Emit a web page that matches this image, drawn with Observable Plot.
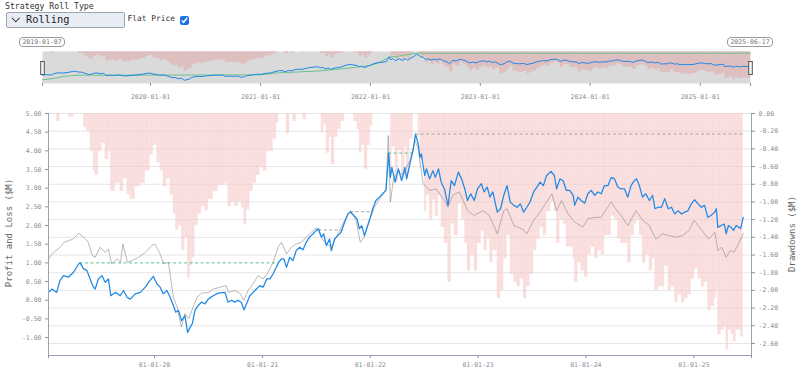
<!DOCTYPE html>
<html><head><meta charset="utf-8">
<script src="https://cdn.jsdelivr.net/npm/d3@7"></script>
<script src="https://cdn.jsdelivr.net/npm/@observablehq/plot@0.6"></script>
<style>
body{margin:0;background:#fff;font-family:"DejaVu Sans Mono",monospace;}
#root{position:relative;width:800px;height:370px;overflow:hidden;}
.abs{position:absolute;}
.datebox{position:absolute;top:37px;width:44px;height:8px;border:1px solid #9a9a9a;border-radius:4px;font-size:6.5px;line-height:8px;text-align:center;color:#777;background:#fff;}
.ytitle{position:absolute;white-space:nowrap;font-size:9px;color:#666;transform:translate(-50%,-50%) rotate(-90deg);}
</style></head><body><div id="root"></div>
<script>
// ---- data ----
const rollTypeLabel = "Rolling";
const bluePnl = [
["2019-01-07",0.21],["2019-01-19",0.30],["2019-02-04",0.21],["2019-02-15",0.53],["2019-02-27",0.66],["2019-03-16",0.62],["2019-04-02",0.75],["2019-04-19",0.97],["2019-04-24",1.00],["2019-05-06",0.84],["2019-05-17",0.80],["2019-05-28",0.57],["2019-06-08",0.35],["2019-06-14",0.30],["2019-06-25",0.57],["2019-07-07",0.66],["2019-07-18",0.48],["2019-07-29",0.57],["2019-08-06",0.12],["2019-08-21",0.21],["2019-09-07",0.12],["2019-09-18",0.26],["2019-09-30",0.08],["2019-10-11",0.03],["2019-10-28",0.17],["2019-11-14",0.21],["2019-12-01",0.35],["2019-12-17",0.53],["2019-12-28",0.64],
["2020-01-09",0.44],["2020-01-20",0.35],["2020-01-31",0.17],["2020-02-12",0.26],["2020-02-23",0.08],["2020-03-05",-0.14],["2020-03-13",-0.32],["2020-03-22",-0.27],["2020-04-02",-0.55],["2020-04-13",-0.41],["2020-04-22",-0.86],["2020-05-01",-0.72],["2020-05-08",-0.63],["2020-05-17",-0.27],["2020-05-28",-0.14],["2020-06-08",-0.05],["2020-06-20",-0.10],["2020-07-01",0.03],["2020-07-18",0.12],["2020-08-04",0.19],["2020-08-27",0.21],["2020-09-06",-0.05],["2020-09-18",0.00],["2020-09-29",-0.05],["2020-10-10",0.00],["2020-10-22",-0.07],["2020-10-30",-0.26],["2020-11-08",-0.09],["2020-11-19",0.12],["2020-11-30",0.21],["2020-12-11",0.30],["2020-12-23",0.39],
["2021-01-03",0.35],["2021-01-15",0.57],["2021-01-26",0.57],["2021-02-06",0.71],["2021-02-17",0.89],["2021-02-25",1.02],["2021-03-06",1.11],["2021-03-14",1.11],["2021-03-23",0.88],["2021-04-03",1.15],["2021-04-14",1.06],["2021-04-25",1.33],["2021-05-07",1.42],["2021-05-18",1.35],["2021-05-29",1.55],["2021-06-09",1.69],["2021-06-21",1.78],["2021-07-02",1.87],["2021-07-10",1.91],["2021-07-19",1.69],["2021-07-27",1.78],["2021-08-05",1.46],["2021-08-16",1.64],["2021-08-22",1.33],["2021-09-02",1.64],["2021-09-13",1.73],["2021-09-24",1.82],["2021-10-06",2.09],["2021-10-17",2.31],["2021-10-26",2.36],["2021-11-06",2.27],["2021-11-17",2.18],["2021-11-25",1.91],["2021-12-03",2.00],["2021-12-12",1.73],["2021-12-23",2.00],
["2022-01-01",2.22],["2022-01-09",2.45],["2022-01-20",2.67],["2022-02-01",2.76],["2022-02-12",2.85],["2022-02-23",2.94],["2022-02-28",3.47],["2022-03-04",3.94],["2022-03-10",3.29],["2022-03-15",3.56],["2022-03-26",3.16],["2022-04-06",3.52],["2022-04-17",3.20],["2022-04-28",3.56],["2022-05-04",3.25],["2022-05-15",3.65],["2022-05-26",4.01],["2022-06-03",4.45],["2022-06-12",4.19],["2022-06-18",3.83],["2022-06-23",3.92],["2022-07-04",3.34],["2022-07-10",3.52],["2022-07-21",3.25],["2022-08-01",3.47],["2022-08-09",3.29],["2022-08-20",3.52],["2022-08-29",3.16],["2022-09-09",2.98],["2022-09-21",2.54],["2022-10-02",3.20],["2022-10-13",3.07],["2022-10-26",3.43],["2022-11-06",3.25],["2022-11-17",2.98],["2022-11-26",2.67],["2022-12-07",2.85],["2022-12-19",2.67],["2022-12-30",2.98],
["2023-01-12",3.12],["2023-01-21",2.90],["2023-02-01",3.03],["2023-02-10",2.76],["2023-02-20",2.90],["2023-03-07",2.36],["2023-03-18",2.45],["2023-03-29",2.81],["2023-04-09",3.07],["2023-04-20",2.63],["2023-05-02",2.54],["2023-05-13",2.49],["2023-05-24",2.58],["2023-06-04",2.36],["2023-06-15",2.49],["2023-06-26",2.63],["2023-07-08",2.90],["2023-07-19",3.03],["2023-07-30",3.16],["2023-08-10",3.07],["2023-08-21",3.34],["2023-09-05",3.45],["2023-09-16",3.34],["2023-09-24",2.98],["2023-10-05",3.25],["2023-10-16",3.20],["2023-10-27",2.94],["2023-11-07",2.94],["2023-11-19",2.81],["2023-11-24",2.54],["2023-12-05",2.76],["2023-12-16",2.67],["2023-12-28",2.60],
["2024-01-08",2.85],["2024-01-19",2.94],["2024-01-31",2.81],["2024-02-11",2.90],["2024-02-22",2.85],["2024-03-04",3.07],["2024-03-16",3.07],["2024-03-27",3.29],["2024-04-07",3.25],["2024-04-18",3.03],["2024-04-29",2.98],["2024-05-11",2.98],["2024-05-22",2.76],["2024-06-02",3.07],["2024-06-13",3.20],["2024-06-21",3.25],["2024-06-30",3.07],["2024-07-11",2.76],["2024-07-22",2.85],["2024-08-03",2.67],["2024-08-14",2.81],["2024-08-22",2.45],["2024-09-02",2.49],["2024-09-13",2.49],["2024-09-24",2.72],["2024-10-06",2.45],["2024-10-17",2.49],["2024-10-28",2.31],["2024-11-08",2.40],["2024-11-20",2.31],["2024-12-01",2.36],["2024-12-12",2.40],["2024-12-23",2.58],
["2025-01-03",2.69],["2025-01-15",2.58],["2025-01-26",2.49],["2025-02-06",2.54],["2025-02-17",2.22],["2025-02-28",2.27],["2025-03-12",2.36],["2025-03-18",2.45],["2025-03-23",1.95],["2025-04-03",2.00],["2025-04-14",2.04],["2025-04-20",1.78],["2025-04-28",2.00],["2025-05-07",1.95],["2025-05-15",1.87],["2025-05-24",2.00],["2025-06-08",1.92],["2025-06-17",2.22]
];
const grayPnl = [
["2019-01-07",1.10],["2019-01-19",1.24],["2019-02-15",1.42],["2019-03-01",1.55],["2019-04-01",1.64],["2019-04-19",1.79],["2019-05-06",1.69],["2019-05-22",1.55],["2019-06-04",1.20],["2019-06-14",1.15],["2019-07-01",1.42],["2019-07-18",1.28],["2019-07-29",1.37],["2019-08-09",0.97],["2019-08-27",1.11],["2019-09-08",1.02],["2019-09-16",1.51],["2019-10-01",1.02],["2019-10-17",1.06],["2019-11-08",1.15],["2019-12-01",1.28],["2019-12-22",1.46],
["2020-01-02",1.51],["2020-01-20",1.24],["2020-02-01",0.97],["2020-02-17",1.02],["2020-03-05",0.08],["2020-03-18",-0.19],["2020-04-01",-0.72],["2020-04-13",-0.36],["2020-04-26",-0.50],["2020-05-07",-0.27],["2020-05-24",0.08],["2020-06-09",0.19],["2020-07-02",0.21],["2020-07-19",0.30],["2020-08-10",0.35],["2020-08-31",0.39],["2020-09-07",0.21],["2020-09-30",0.26],["2020-10-16",0.19],["2020-10-30",0.00],["2020-11-13",0.26],["2020-11-30",0.44],["2020-12-17",0.66],
["2021-01-03",0.57],["2021-01-20",0.75],["2021-02-06",1.02],["2021-02-23",1.42],["2021-03-06",1.55],["2021-03-23",1.24],["2021-04-09",1.42],["2021-04-25",1.51],["2021-05-12",1.55],["2021-05-29",1.69],["2021-06-15",1.82],["2021-07-02",1.94],["2021-07-13",1.78],["2021-07-30",1.55],["2021-08-22",1.42],["2021-09-13",1.78],["2021-10-06",2.14],["2021-10-26",2.40],["2021-11-14",2.14],["2021-11-28",1.55],["2021-12-12",1.69],["2021-12-29",2.14],
["2022-01-15",2.49],["2022-02-06",2.76],["2022-02-23",2.98],["2022-03-03",4.41],["2022-03-10",2.63],["2022-03-21",3.29],["2022-04-06",3.43],["2022-04-23",3.34],["2022-05-04",3.56],["2022-05-15",3.74],["2022-06-01",4.28],["2022-06-12",4.06],["2022-06-29",3.12],["2022-07-21",2.94],["2022-08-12",2.98],["2022-09-04",2.72],["2022-09-21",2.49],["2022-10-07",2.81],["2022-10-30",2.90],["2022-11-26",2.40],["2022-12-19",2.27],
["2023-01-17",2.40],["2023-02-08",2.27],["2023-03-07",1.78],["2023-03-29",2.40],["2023-04-09",2.45],["2023-05-02",2.00],["2023-05-30",1.91],["2023-06-15",1.78],["2023-07-08",2.14],["2023-07-30",2.36],["2023-08-21",2.63],["2023-09-08",2.85],["2023-09-24",2.40],["2023-10-11",2.67],["2023-11-02",2.31],["2023-11-24",2.09],["2023-12-22",1.96],
["2024-01-08",2.18],["2024-01-31",2.22],["2024-02-22",2.22],["2024-03-27",2.63],["2024-04-07",2.49],["2024-04-29",2.27],["2024-05-22",2.00],["2024-06-19",2.40],["2024-07-11",2.14],["2024-08-03",2.00],["2024-08-25",1.64],["2024-09-16",1.78],["2024-10-09",1.73],["2024-10-31",1.69],["2024-11-23",1.73],["2024-12-16",1.87],
["2025-01-01",2.14],["2025-01-24",1.91],["2025-02-20",1.64],["2025-03-13",1.82],["2025-03-23",1.33],["2025-04-05",1.42],["2025-04-20",1.15],["2025-05-04",1.33],["2025-05-18",1.29],["2025-06-17",1.78]
];
const overviewGreen = [
["2019-01-07",-0.75],["2019-02-15",-0.45],["2019-03-15",-0.08],["2019-05-01",0.19],["2020-06-01",0.22],["2021-01-01",0.27],["2021-03-01",0.67],["2021-07-01",1.00],["2021-10-01",1.49],["2022-01-01",2.16],["2022-02-01",2.83],["2022-03-04",3.84],["2022-04-06",4.05],["2022-06-03",4.65],["2025-06-17",4.65]
];
// drawdown periods (peak date, end date, peak level, kind)
const periodStarts = ["2019-04-24","2021-07-10","2021-10-26","2022-03-04","2022-06-03"];
const periodEnds   = ["2021-02-25","2021-10-06","2022-01-09","2022-05-26","2025-06-17"];
const periodLevels = [1.00, 1.88, 2.37, 3.94, 4.45];
const periodKinds  = ["recovered","open","open","recovered","open"];
const mainYearTicks = ["2020-01-01","2021-01-01","2022-01-01","2023-01-01","2024-01-01","2025-01-01"];
const leftTicks  = [-1,-0.5,0,0.5,1,1.5,2,2.5,3,3.5,4,4.5,5];
const rightTicks = [0,-0.2,-0.4,-0.6,-0.8,-1.0,-1.2,-1.4,-1.6,-1.8,-2.0,-2.2,-2.4,-2.6];
const dataStart = "2019-01-07", dataEnd = "2025-06-17", mainEnd = "2025-07-15";

// ---- build ----
const P = d3.utcParse("%Y-%m-%d");
const blue = bluePnl.map(([d,v]) => ({date:P(d), value:v}));
const gray = grayPnl.map(([d,v]) => ({date:P(d), value:v}));
const green = overviewGreen.map(([d,v]) => ({date:P(d), value:v}));
let peak = -Infinity;
const dd = blue.map((p,i) => { peak = Math.max(peak, p.value);
  return {d1:p.date, d2: i < blue.length-1 ? blue[i+1].date : p.date, dd: p.value - peak}; });
const periods = periodStarts.map((s,i) => ({start:P(s), end:P(periodEnds[i]), level:periodLevels[i], kind:periodKinds[i]}));
const t0 = P(dataStart), t1 = P(dataEnd), tMainEnd = P(mainEnd);
const years = mainYearTicks.map(P);
const axisCol = "#9aa3b3";
const txtCol = "#8c9099";
const baseStyle = {background:"transparent", fontFamily:"DejaVu Sans Mono, monospace", fontSize:"6.5px", color:txtCol, overflow:"visible"};
const root = document.getElementById("root");
function place(el, top){ el.style.position="absolute"; el.style.left="0px"; el.style.top=top+"px"; root.appendChild(el); return el; }

// controls
root.insertAdjacentHTML("beforeend", `
<div class="abs" style="left:5px;top:1px;font-size:8.2px;line-height:10px;color:#333;white-space:nowrap">Strategy Roll Type</div>
<div class="abs" style="left:6px;top:12px;width:117px;height:14px;background:#e8edf5;border:1px solid #9ea4ad;border-radius:2px;">
  <span style="position:absolute;left:6.3px;top:2.4px;width:4.5px;height:4.5px;border-right:1.4px solid #222;border-bottom:1.4px solid #222;transform:rotate(45deg)"></span>
  <span style="position:absolute;left:19px;top:0px;font-size:10.3px;line-height:12px;color:#222">${rollTypeLabel}</span>
</div>
<div class="abs" style="left:127.5px;top:13.5px;font-size:7.9px;line-height:10px;color:#333;white-space:nowrap">Flat Price</div>
<input type="checkbox" checked class="abs" style="left:179.5px;top:15.5px;width:9px;height:9px;margin:0;accent-color:#1a73e8">
`);

// overview (brush) chart
const ovCommon = {width:800, height:55, marginTop:3, marginBottom:20, marginLeft:42, marginRight:50,
  x:{type:"utc", domain:[t0,t1], axis:null}, style:baseStyle};
const ovBack = Plot.plot({...ovCommon,
  y:{domain:[-3,0], axis:null},
  marks:[
    Plot.frame({fill:"#dadada", stroke:null}),
    Plot.rectY(dd, {x1:"d1", x2:"d2", y1:0, y2:"dd", fill:"#e49a9a", fillOpacity:0.42}),
    Plot.axisX({ticks:[t0, ...years, t1], anchor:"bottom", tickSize:3, tickPadding:8, label:null,
      tickFormat: d => (+d === +t0 || +d === +t1) ? "" : d3.utcFormat("%Y-%m-%d")(d)})
  ]});
place(ovBack, 48);
const ovFront = Plot.plot({...ovCommon,
  y:{domain:[-1.5,5], axis:null},
  marks:[
    Plot.line(green, {x:"date", y:"value", stroke:"#6cc28f", strokeWidth:1}),
    Plot.line(blue, {x:"date", y:"value", stroke:"#1e88e5", strokeWidth:1}),
    Plot.tickX([t0,t1], {insetTop:10, insetBottom:8, stroke:"#555", strokeWidth:4.6}),
    Plot.tickX([t0,t1], {insetTop:11, insetBottom:9, stroke:"#f4f4f4", strokeWidth:2.6})
  ]});
place(ovFront, 48);
const ox = ovFront.scale("x");
[[t0,dataStart],[t1,dataEnd]].forEach(([t,label]) => {
  const b = document.createElement("div"); b.className = "datebox"; b.textContent = label;
  b.style.left = (ox.apply(t) - 23) + "px"; root.appendChild(b);
});

// main chart
const mainCommon = {width:800, height:265, marginTop:8, marginBottom:15, marginLeft:48, marginRight:49,
  x:{type:"utc", domain:[t0,tMainEnd], axis:null}, style:baseStyle};
const mainBack = Plot.plot({...mainCommon,
  y:{domain:[-2.736,0], axis:null},
  marks:[
    Plot.gridY({ticks:rightTicks, stroke:"#e6e6e6", strokeOpacity:1}),
    Plot.rectY(dd, {x1:"d1", x2:"d2", y1:0, y2:"dd", fill:"#f7c8c8", fillOpacity:0.6}),
    Plot.axisY({ticks:rightTicks, anchor:"right", tickSize:3, tickPadding:4, label:null, tickFormat: d => d.toFixed(2)}),
    Plot.ruleX([tMainEnd], {stroke:axisCol})
  ]});
place(mainBack, 105);
const mainFront = Plot.plot({...mainCommon,
  y:{domain:[-1.48,5], axis:null},
  marks:[
    Plot.ruleY(periods.filter(p => p.kind === "recovered"), {y:"level", x1:"start", x2:"end", stroke:"#5cbf95", strokeWidth:1, strokeDasharray:"3,2.5"}),
    Plot.ruleY(periods.filter(p => p.kind === "open"), {y:"level", x1:"start", x2:"end", stroke:"#a3a3a3", strokeWidth:1, strokeDasharray:"3,2.5"}),
    Plot.line(gray, {x:"date", y:"value", stroke:"#8a8a8a", strokeOpacity:0.75, strokeWidth:0.8}),
    Plot.line(blue, {x:"date", y:"value", stroke:"#1e88e5", strokeWidth:1.25}),
    Plot.axisY({ticks:leftTicks, anchor:"left", tickSize:3, tickPadding:4, label:null, tickFormat: d => d.toFixed(2)}),
    Plot.axisX({ticks:[t0, ...years, tMainEnd], anchor:"bottom", tickSize:3, tickPadding:4, label:null,
      tickFormat: d => (+d === +t0 || +d === +tMainEnd) ? "" : d3.utcFormat("%m-%d-%y")(d)}),
    Plot.ruleX([t0], {stroke:axisCol}),
    Plot.ruleY([-1.48], {stroke:axisCol})
  ]});
place(mainFront, 105);

root.insertAdjacentHTML("beforeend", `
<div class="ytitle" style="left:8.5px;top:233px">Profit and Loss ($M)</div>
<div class="ytitle" style="left:792px;top:234px">Drawdowns ($M)</div>
`);
</script></body></html>
